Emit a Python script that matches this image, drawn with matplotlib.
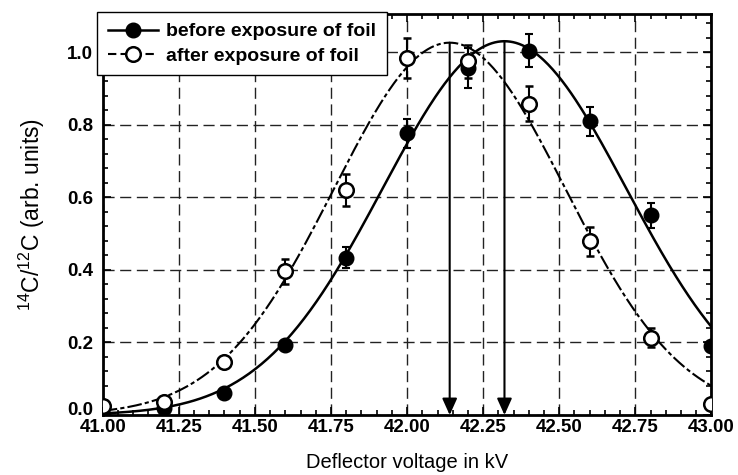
import numpy as np
import matplotlib
matplotlib.use('Agg')
import matplotlib.pyplot as plt
from matplotlib.lines import Line2D
from matplotlib.ticker import MultipleLocator

# measured points
voltage = [41.0, 41.2, 41.4, 41.6, 41.8, 42.0, 42.2, 42.4, 42.6, 42.8, 43.0]
before = [0.0, 0.02, 0.06, 0.194, 0.434, 0.776, 0.955, 1.004, 0.81, 0.55, 0.19]
before_err = [0.0, 0.0, 0.0, 0.0, 0.03, 0.04, 0.055, 0.046, 0.04, 0.035, 0.0]
after = [0.025, 0.035, 0.146, 0.396, 0.62, 0.985, 0.975, 0.858, 0.479, 0.213, 0.03]
after_err = [0.0, 0.0, 0.0, 0.035, 0.045, 0.055, 0.045, 0.048, 0.04, 0.026, 0.0]

# gaussian fits (amplitude, centre, sigma)
fit_before = (1.03, 42.32, 0.40)
fit_after = (1.026, 42.14, 0.381)

x_ticks = [41.00, 41.25, 41.50, 41.75, 42.00, 42.25, 42.50, 42.75, 43.00]
y_ticks = [0.0, 0.2, 0.4, 0.6, 0.8, 1.0]

plt.rcParams['font.family'] = ['Liberation Sans', 'DejaVu Sans']
plt.rcParams['mathtext.default'] = 'regular'

fig = plt.figure(figsize=(7.38, 4.75), dpi=100)
ax = fig.add_axes([0.1392, 0.1263, 0.8248, 0.8442])


def gauss(x, p):
    a, mu, s = p
    return a * np.exp(-(x - mu) ** 2 / (2 * s ** 2))


xs = np.linspace(41.0, 43.0, 400)
ax.plot(xs, gauss(xs, fit_before), color='black', lw=1.8, zorder=3)
ax.plot(xs, gauss(xs, fit_after), color='black', lw=1.5,
        linestyle=(0, (7, 1.5, 2, 1.5)), zorder=3)

ax.errorbar(voltage, before, yerr=before_err, fmt='o', color='black',
            ms=10.5, capsize=3, elinewidth=1.5, capthick=1.5, zorder=4)
ax.errorbar(voltage, after, yerr=after_err, fmt='o', color='black',
            mfc='white', mec='black', mew=1.8, ms=10.5, capsize=3,
            elinewidth=1.5, capthick=1.5, zorder=5)

# arrows from the fitted peaks down to the axis
for p in (fit_after, fit_before):
    ax.annotate('', xy=(p[1], 0.0), xytext=(p[1], p[0]),
                arrowprops=dict(arrowstyle='-|>,head_length=1.0,head_width=0.45',
                                color='black', lw=1.5, shrinkA=0, shrinkB=0),
                zorder=3)

ax.set_xlim(41.0, 43.0)
ax.set_ylim(0.0, 1.105)
ax.set_xticks(x_ticks)
ax.set_xticklabels(['%.2f' % t for t in x_ticks])
ax.set_yticks(y_ticks)
ax.set_yticklabels(['%.1f' % t for t in y_ticks])
ax.xaxis.set_minor_locator(MultipleLocator(0.05))
ax.yaxis.set_minor_locator(MultipleLocator(0.04))
ax.tick_params(which='both', direction='in', top=True, right=True,
               width=1.2, labelsize=13.5)
ax.tick_params(which='major', length=6)
ax.tick_params(which='minor', length=3.5)
ax.tick_params(axis='x', pad=3)
ax.tick_params(axis='y', pad=7)
for lab in ax.get_xticklabels() + ax.get_yticklabels():
    lab.set_fontweight('bold')
# the bottom y label sits a little higher, clear of the x labels
ax.get_yticklabels()[0].set_verticalalignment('baseline')
for sp in ax.spines.values():
    sp.set_linewidth(2)

ax.grid(True, which='major', color='#222222', lw=1.0, linestyle=(0, (8, 4)))
ax.set_axisbelow(True)

ax.set_xlabel('Deflector voltage in kV', fontsize=14.5, labelpad=12)
ax.set_ylabel(r'$^{14}$C/$^{12}$C (arb. units)', fontsize=16.5, labelpad=14)

handles = [
    Line2D([], [], color='black', lw=1.8, marker='o', ms=10.5),
    Line2D([], [], color='black', lw=1.5, linestyle=(0, (4, 2)), marker='o',
           ms=10.5, mfc='white', mew=1.8),
]
leg = ax.legend(handles, ['before exposure of foil', 'after exposure of foil'],
                loc='upper left', bbox_to_anchor=(-0.009, 1.005), borderaxespad=0,
                frameon=True, fancybox=False, edgecolor='black', framealpha=1,
                prop={'weight': 'bold', 'size': 14}, handlelength=2.55,
                borderpad=0.55, labelspacing=0.35, handletextpad=0.45)
leg.get_frame().set_linewidth(1.0)
leg.set_zorder(10)

fig.savefig('out.png', dpi=100)
